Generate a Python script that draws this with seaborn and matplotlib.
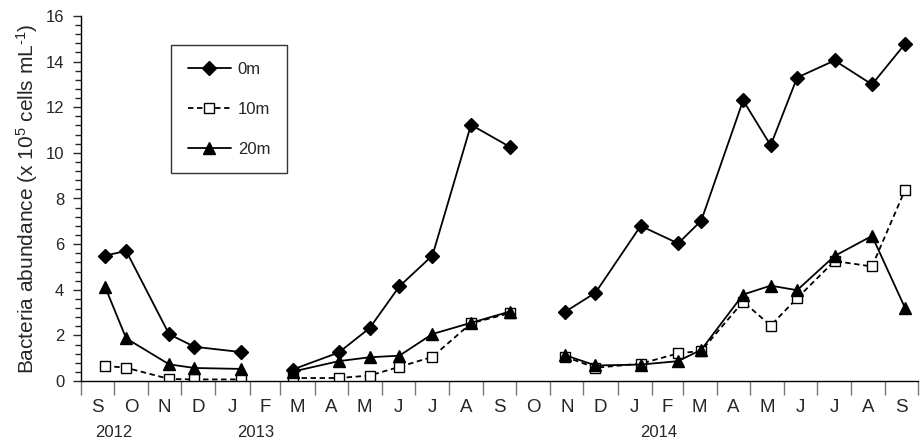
import numpy as np
import pandas as pd
import seaborn as sns
import matplotlib.pyplot as plt
import matplotlib.dates as mdates

# sampling dates (three sampling campaigns, lines are broken between them)
dates = ["2012-09-23", "2012-10-12", "2012-11-20", "2012-12-13", "2013-01-24",
         "2013-03-12", "2013-04-23", "2013-05-21", "2013-06-17", "2013-07-17",
         "2013-08-21", "2013-09-25",
         "2013-11-14", "2013-12-12", "2014-01-22", "2014-02-25", "2014-03-18",
         "2014-04-25", "2014-05-20", "2014-06-13", "2014-07-17", "2014-08-20",
         "2014-09-19"]
campaign = [0]*5 + [1]*7 + [2]*11

abund_0m = [5.5, 5.7, 2.05, 1.5, 1.27, 0.5, 1.25, 2.32, 4.15, 5.5, 11.23, 10.27,
            3.02, 3.87, 6.8, 6.03, 7.03, 12.3, 10.33, 13.3, 14.05, 13.0, 14.78]
abund_10m = [0.66, 0.58, 0.09, 0.07, 0.07, 0.13, 0.13, 0.24, 0.62, 1.06, 2.53, 2.97,
             1.07, 0.58, 0.76, 1.21, 1.32, 3.48, 2.43, 3.63, 5.26, 5.02, 8.38]
abund_20m = [4.11, 1.87, 0.73, 0.57, 0.53, 0.41, 0.87, 1.04, 1.11, 2.06, 2.55, 3.04,
             1.14, 0.68, 0.72, 0.87, 1.37, 3.79, 4.18, 3.98, 5.48, 6.36, 3.2]

depths = ["0m", "10m", "20m"]
month_labels = ["S", "O", "N", "D", "J", "F", "M", "A", "M", "J", "J", "A",
                "S", "O", "N", "D", "J", "F", "M", "A", "M", "J", "J", "A", "S"]
year_labels = ["2012", "2013", "2014"]
year_label_dates = ["2012-10-01", "2013-02-07", "2014-02-07"]

frames = []
for d, vals in zip(depths, [abund_0m, abund_10m, abund_20m]):
    frames.append(pd.DataFrame({"date": pd.to_datetime(dates), "value": vals,
                                "depth": d, "seg": campaign}))
df = pd.concat(frames, ignore_index=True)

sns.set_style("ticks")
plt.rcParams['font.family'] = ['Liberation Sans', 'DejaVu Sans']
plt.rcParams['mathtext.fontset'] = 'custom'
plt.rcParams['mathtext.rm'] = 'Liberation Sans'
plt.rcParams['mathtext.it'] = 'Liberation Sans:italic'

fig = plt.figure(figsize=(9.21, 4.44), dpi=100)
ax = fig.add_axes([81/921, 1-381/444, (918.3-81)/921, (381-16)/444])

sns.lineplot(data=df, x="date", y="value", hue="depth", style="depth",
             units="seg", estimator=None, ax=ax,
             palette={"0m": "black", "10m": "black", "20m": "black"},
             markers={"0m": "D", "10m": "s", "20m": "^"},
             dashes={"0m": "", "10m": (3, 2), "20m": ""},
             linewidth=1.3, markeredgecolor="black", markeredgewidth=1.0)

msize = {"D": 7.5, "s": 7.5, "^": 9}
for ln in ax.lines:
    m = ln.get_marker()
    if m in msize:
        ln.set_markersize(msize[m])
    if m == "s":
        ln.set_markerfacecolor("white")

old = ax.get_legend()
handles = list(old.legend_handles)
labels = [t.get_text() for t in old.texts]
for h in handles:
    m = h.get_marker()
    if m in msize:
        h.set_markersize(msize[m])
    if m == "s":
        h.set_markerfacecolor("white")
    h.set_markeredgecolor("black")
old.remove()
leg = ax.legend(handles, labels, loc="upper left", bbox_to_anchor=(0.1075, 0.9205),
                frameon=True, fancybox=False, edgecolor="black", fontsize=12,
                labelspacing=1.5, handlelength=2.6, handletextpad=0.4,
                borderpad=1.0, borderaxespad=0)
leg.get_frame().set_linewidth(1.0)

# axes
ax.set_xlim(pd.Timestamp("2012-09-01"), pd.Timestamp("2014-10-01"))
ax.set_ylim(0, 16)
ax.set_yticks(np.arange(0, 17, 2))
ax.set_yticks(np.arange(0, 16.01, 0.4), minor=True)
ax.tick_params(axis="y", which="major", length=6, width=1, labelsize=12, pad=6, direction="out")
ax.tick_params(axis="y", which="minor", length=4, width=1, direction="out")

month_starts = pd.date_range("2012-09-01", "2014-10-01", freq="MS")
mids = [a + (b - a) / 2 for a, b in zip(month_starts[:-1], month_starts[1:])]
ax.set_xticks(month_starts)
ax.set_xticklabels([])
ax.set_xticks(mids, minor=True)
ax.set_xticklabels(month_labels, minor=True)
ax.tick_params(axis="x", which="major", length=10, width=1, color="#777777", direction="out")
ax.tick_params(axis="x", which="minor", length=0, pad=13, labelsize=13.5)

for lab, d in zip(year_labels, year_label_dates):
    ax.text(mdates.date2num(pd.Timestamp(d)), -0.142, lab,
            transform=ax.get_xaxis_transform(), ha="center", va="center", fontsize=12)

ax.set_xlabel("")
ax.set_ylabel("Bacteria abundance (x 10$^{\\mathregular{5}}$ cells mL$^{\\mathregular{\u2010}1}$)",
              fontsize=15, labelpad=4)
for s in ["top", "right"]:
    ax.spines[s].set_visible(False)
for s in ["left", "bottom"]:
    ax.spines[s].set_linewidth(1.0)
    ax.spines[s].set_color("black")

plt.savefig("out.png", dpi=100)
